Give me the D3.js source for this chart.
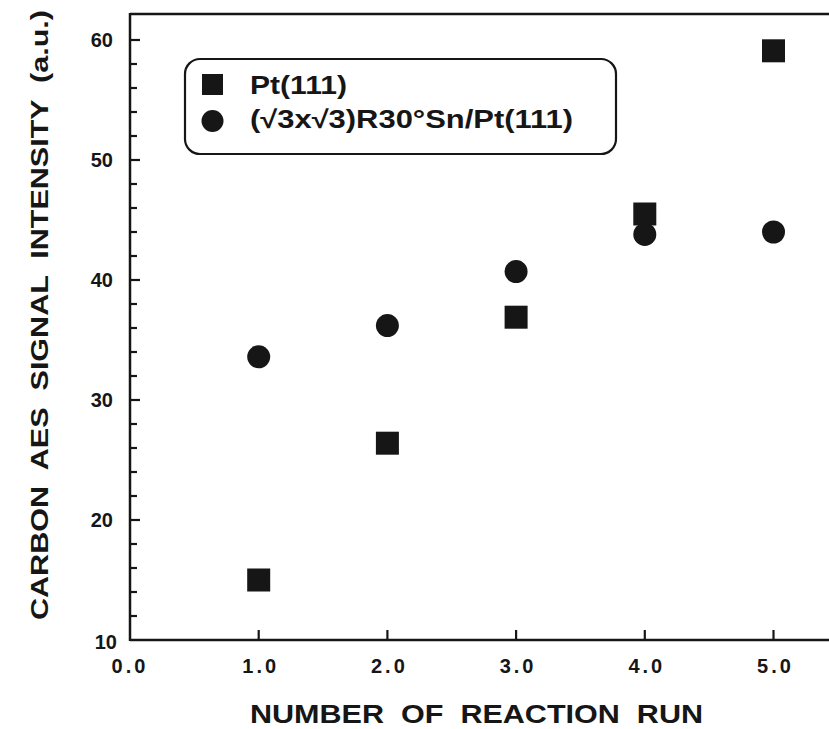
<!DOCTYPE html>
<html><head><meta charset="utf-8">
<script src="https://cdn.jsdelivr.net/npm/d3@7"></script>
<style>body{margin:0;background:#fff}svg{display:block}text{font-family:"Liberation Sans",Arial,sans-serif;font-weight:bold}</style>
</head><body>
<svg id="c" width="829" height="729"></svg>
<script>
const runs = [1, 2, 3, 4, 5];
const ptValues = [15.0, 26.4, 36.9, 45.5, 59.1];
const snValues = [33.6, 36.2, 40.7, 43.8, 44.0];
const seriesNames = ["Pt(111)", "(\u221A3x\u221A3)R30\u00B0Sn/Pt(111)"];
const xTicks = [0, 1, 2, 3, 4, 5];
const yTicks = [10, 20, 30, 40, 50, 60];
const yMinorTicks = [12,14,16,18,22,24,26,28,32,34,36,38,42,44,46,48,52,54,56,58];
const xTitle = "NUMBER OF REACTION RUN";
const yTitle = "CARBON AES SIGNAL INTENSITY (a.u.)";

const ink = "#161616";
const svg = d3.select("#c");
const x = d3.scaleLinear().domain([0, 5]).range([130, 773.5]);
const y = d3.scaleLinear().domain([10, 60]).range([640, 40]);
const xEnd = 829, yTop = 14;
const g = svg.append("g");

// frame lines
g.append("line").attr("x1", x(0)).attr("x2", x(0)).attr("y1", yTop - 1).attr("y2", y(10) + 1).attr("stroke", ink).attr("stroke-width", 2.5);
g.append("line").attr("x1", x(0)).attr("x2", xEnd).attr("y1", y(10)).attr("y2", y(10)).attr("stroke", ink).attr("stroke-width", 2.5);
g.append("line").attr("x1", x(0)).attr("x2", xEnd).attr("y1", yTop).attr("y2", yTop).attr("stroke", ink).attr("stroke-width", 2.5);

// y axis ticks
g.selectAll(".ymaj").data(yTicks.slice(1)).join("line")
  .attr("x1", x(0)).attr("x2", x(0) + 10).attr("y1", d => y(d)).attr("y2", d => y(d))
  .attr("stroke", ink).attr("stroke-width", 2.2);
g.selectAll(".ymin").data(yMinorTicks).join("line")
  .attr("x1", x(0)).attr("x2", x(0) + 7).attr("y1", d => y(d)).attr("y2", d => y(d))
  .attr("stroke", ink).attr("stroke-width", 2.2);
g.selectAll(".ylab").data(yTicks).join("text")
  .attr("x", d => d === 10 ? 117 : 113).attr("y", d => y(d) + (d === 10 ? 9 : 7))
  .attr("text-anchor", "end")
  .style("font-size", "20px").attr("fill", ink).text(d => d);

// x axis ticks
g.selectAll(".xmaj").data(xTicks.slice(1)).join("line")
  .attr("x1", d => x(d)).attr("x2", d => x(d)).attr("y1", y(10)).attr("y2", y(10) - 10)
  .attr("stroke", ink).attr("stroke-width", 2.2);
g.selectAll(".xlab").data(xTicks).join("text")
  .attr("x", d => x(d) + (d === 0 ? 0 : 2)).attr("y", 673)
  .attr("text-anchor", "middle")
  .style("font-size", "20px").attr("letter-spacing", 3).attr("fill", ink).text(d => d3.format(".1f")(d));

// axis titles
g.append("text").attr("x", 250).attr("y", 723)
  .style("font-size", "25px").attr("fill", ink)
  .attr("textLength", 453).attr("lengthAdjust", "spacingAndGlyphs")
  .attr("xml:space", "preserve").text(xTitle.replace(/ /g, "  "));
g.append("text").attr("transform", "translate(48,620) rotate(-90)")
  .style("font-size", "23px").attr("fill", ink)
  .attr("textLength", 610).attr("lengthAdjust", "spacingAndGlyphs")
  .attr("xml:space", "preserve").text(yTitle.replace(/ /g, "  "));

// markers
const sq = 23, r = 11.5;
g.selectAll(".pt").data(runs).join("rect")
  .attr("x", (d) => x(d) - sq / 2).attr("y", (d, i) => y(ptValues[i]) - sq / 2)
  .attr("width", sq).attr("height", sq).attr("fill", ink);
g.selectAll(".sn").data(runs).join("circle")
  .attr("cx", d => x(d)).attr("cy", (d, i) => y(snValues[i])).attr("r", r).attr("fill", ink);

// legend
const lg = g.append("g");
lg.append("rect").attr("x", 185).attr("y", 59).attr("width", 431).attr("height", 95)
  .attr("rx", 15).attr("ry", 15).attr("fill", "#fff").attr("stroke", ink).attr("stroke-width", 2.2);
lg.append("rect").attr("x", 202).attr("y", 74).attr("width", 21).attr("height", 21).attr("fill", ink);
lg.append("circle").attr("cx", 212.5).attr("cy", 121).attr("r", 11).attr("fill", ink);
lg.append("text").attr("x", 250).attr("y", 94)
  .style("font-size", "25px").attr("fill", ink)
  .attr("textLength", 97).attr("lengthAdjust", "spacingAndGlyphs").text(seriesNames[0]);
lg.append("text").attr("x", 250).attr("y", 128)
  .style("font-size", "25px").attr("fill", ink)
  .attr("textLength", 323).attr("lengthAdjust", "spacingAndGlyphs").text(seriesNames[1]);
</script>
</body></html>
